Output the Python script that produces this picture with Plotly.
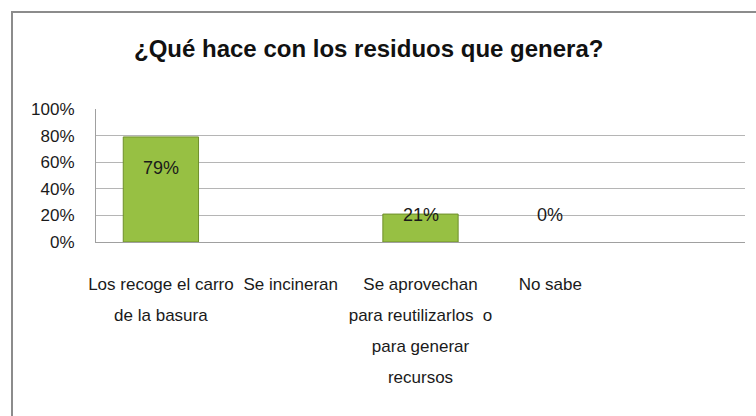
import plotly.graph_objects as go

categorias = [
    "Los recoge el carro<br>de la basura",
    "Se incineran",
    "Se aprovechan<br>para reutilizarlos  o<br>para generar<br>recursos",
    "No sabe",
    " ",
]
porcentajes = [0.79, 0.0, 0.21, 0.0, None]
etiquetas = ["79%", None, "21%", "0%", None]

fuente = "Liberation Sans, Arial, sans-serif"
desplaz = [-31, 0, -1, 27, 0]  # ajuste vertical de las etiquetas

# texto de categoria mas pequeno dentro de un renglon mas alto
textos_x = ["<br>".join('<span style="font-size:17px">%s</span>' % l for l in c.split("<br>"))
            for c in categorias]

fig = go.Figure()
fig.add_trace(go.Bar(
    x=categorias, y=porcentajes, width=0.58,
    marker=dict(color="#97c043",
                line=dict(color="#6f8f2b", width=[1 if v else 0 for v in porcentajes])),
    hoverinfo="skip",
))

for cat, val, txt, dy in zip(categorias, porcentajes, etiquetas, desplaz):
    if txt is None:
        continue
    fig.add_annotation(x=cat, y=val, text=txt, showarrow=False, yshift=dy,
                       font=dict(family=fuente, size=18, color="#1a1a1a"))

fig.add_annotation(xref="paper", yref="paper", x=0.4205, y=1.455, xanchor="center",
                   yanchor="middle", showarrow=False,
                   text="<b>¿Qué hace con los residuos que genera?</b>",
                   font=dict(family=fuente, size=24, color="#111111"))

# borde del gráfico (arriba e izquierda), en pixeles desde el eje
fig.add_shape(type="rect", xref="paper", yref="paper",
              xsizemode="pixel", ysizemode="pixel", xanchor=0, yanchor=0,
              x0=-84, x1=700, y0=-220, y1=230,
              line=dict(color="#8c8c8c", width=2), layer="below")

fig.update_layout(
    width=756, height=416,
    margin=dict(l=96, r=11, t=109, b=174),
    paper_bgcolor="white", plot_bgcolor="white",
    showlegend=False,
    bargap=0.42,
    font=dict(family=fuente, size=17, color="#1a1a1a"),
)
fig.update_yaxes(
    range=[0, 1], tickvals=[0, 0.2, 0.4, 0.6, 0.8, 1.0],
    tickformat=".0%", showgrid=True, gridcolor="#b5b5b5", gridwidth=1,
    showline=True, linecolor="#a0a0a0", linewidth=1, ticks="",
    ticklabelstandoff=17, zeroline=False, automargin=False,
)
fig.update_xaxes(
    showline=True, linecolor="#a0a0a0", linewidth=1, ticks="",
    tickangle=0, ticklabelstandoff=18, automargin=False,
    tickmode="array", tickvals=categorias, ticktext=textos_x,
    tickfont=dict(size=24),
)

fig.write_html("out.html", config={"displayModeBar": False},
               post_script="document.body.style.margin='0';")
